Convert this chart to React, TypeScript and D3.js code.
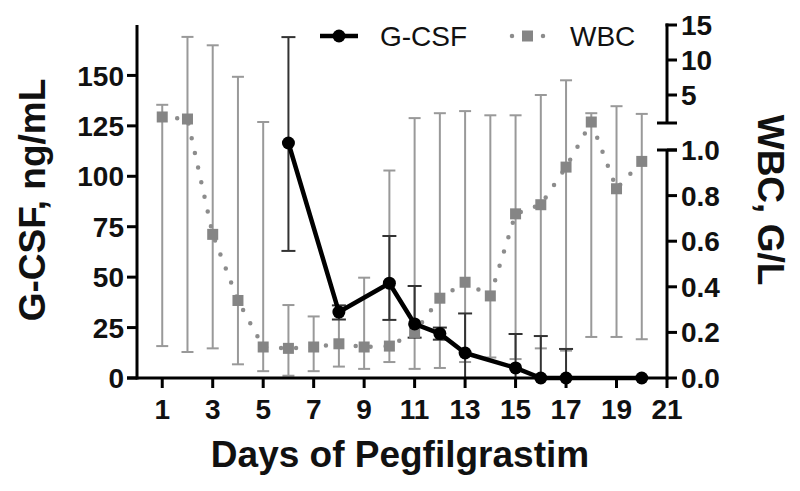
import React, { useEffect, useRef } from 'react';
import * as d3 from 'd3';

// WBC, days 1..20 (G/L)
const wbcDays = [1, 2, 3, 4, 5, 6, 7, 8, 9, 10, 11, 12, 13, 14, 15, 16, 17, 18, 19, 20];
const wbcMean = [1.86, 1.57, 0.63, 0.34, 0.136, 0.13, 0.136, 0.15, 0.136, 0.14, 0.2, 0.35, 0.42, 0.36, 0.72, 0.76, 0.925, 1.14, 0.83, 0.95];
const wbcHigh = [3.6, 13.3, 12.1, 7.6, 1.14, 0.32, 0.27, 0.3, 0.44, 0.91, 1.7, 2.4, 2.7, 2.1, 2.1, 5.0, 7.1, 2.4, 3.4, 2.3];
const wbcLow = [0.14, 0.114, 0.13, 0.06, 0.03, 0.01, 0.03, 0.05, 0.04, 0.07, 0.04, 0.044, 0.07, 0.09, 0.083, 0.13, 0.12, 0.18, 0.18, 0.17];

// G-CSF (ng/mL)
const gcsfDays = [6, 8, 10, 11, 12, 13, 15, 16, 17, 20];
const gcsfMean = [116.5, 32.7, 47, 26.8, 22, 12.4, 5, 0, 0, 0];
const gcsfHigh = [169, 36, 70.4, 45.6, 25, 32, 21.8, 20.8, 14.4, 0];
const gcsfLow = [63, 29, 28.8, 20, 19, 0, 0, 0, 0, 0];

const xTicks = [1, 3, 5, 7, 9, 11, 13, 15, 17, 19, 21];
const leftTicks = [0, 25, 50, 75, 100, 125, 150];
const rightLowTicks = [0, 0.2, 0.4, 0.6, 0.8, 1.0];
const rightHighTicks = [5, 10, 15];

const App: React.FC = () => {
  const svgRef = useRef<SVGSVGElement | null>(null);

  useEffect(() => {
    if (!svgRef.current) return;
    const svg = d3.select(svgRef.current);
    svg.selectAll('*').remove();

    const left = 137, right = 667, top = 25, bottom = 378;
    const font = "'Liberation Sans', Arial, sans-serif";

    const x = d3.scaleLinear().domain([0, 21]).range([left, right]);
    const yL = d3.scaleLinear().domain([0, 175]).range([bottom, top]);
    // broken right axis: 0-1 lower segment, 1-15 upper segment
    const yRlo = d3.scaleLinear().domain([0, 1]).range([bottom, 150]);
    const yRhi = d3.scaleLinear().domain([1, 15]).range([123, top]);
    const yR = (v: number) => (v <= 1 ? yRlo(v) : yRhi(v));

    const gray = '#8c8c8c';

    // WBC error bars
    const wbcErr = svg.append('g').attr('stroke', '#999').attr('stroke-width', 2);
    wbcDays.forEach((d, i) => {
      wbcErr.append('line').attr('x1', x(d)).attr('x2', x(d)).attr('y1', yR(wbcLow[i])).attr('y2', yR(wbcHigh[i]));
      [wbcLow[i], wbcHigh[i]].forEach(v => {
        wbcErr.append('line').attr('x1', x(d) - 6).attr('x2', x(d) + 6).attr('y1', yR(v)).attr('y2', yR(v));
      });
    });

    // G-CSF error bars
    const gErr = svg.append('g').attr('stroke', '#333').attr('stroke-width', 2);
    gcsfDays.forEach((d, i) => {
      if (gcsfHigh[i] === gcsfLow[i]) return;
      gErr.append('line').attr('x1', x(d)).attr('x2', x(d)).attr('y1', yL(gcsfLow[i])).attr('y2', yL(gcsfHigh[i]));
      [gcsfLow[i], gcsfHigh[i]].forEach(v => {
        gErr.append('line').attr('x1', x(d) - 7).attr('x2', x(d) + 7).attr('y1', yL(v)).attr('y2', yL(v));
      });
    });

    // WBC dotted line + squares
    const wbcLine = d3.line<number>().x((_, i) => x(wbcDays[i])).y(v => yR(v));
    svg.append('path')
      .attr('d', wbcLine(wbcMean))
      .attr('fill', 'none')
      .attr('stroke', gray)
      .attr('stroke-width', 4.5)
      .attr('stroke-linecap', 'round')
      .attr('stroke-dasharray', '0 15');
    svg.append('g').selectAll('rect')
      .data(wbcMean)
      .enter()
      .append('rect')
      .attr('x', (_, i) => x(wbcDays[i]) - 5.5)
      .attr('y', v => yR(v) - 5.5)
      .attr('width', 11)
      .attr('height', 11)
      .attr('fill', '#858585');

    // G-CSF line + circles
    const gLine = d3.line<number>().x((_, i) => x(gcsfDays[i])).y(v => yL(v));
    svg.append('path')
      .attr('d', gLine(gcsfMean))
      .attr('fill', 'none')
      .attr('stroke', '#000')
      .attr('stroke-width', 4.5)
      .attr('stroke-linejoin', 'round');
    svg.append('g').selectAll('circle')
      .data(gcsfMean)
      .enter()
      .append('circle')
      .attr('cx', (_, i) => x(gcsfDays[i]))
      .attr('cy', v => yL(v))
      .attr('r', 6.5)
      .attr('fill', '#000');

    // Axes
    const ax = svg.append('g').attr('stroke', '#000').attr('stroke-width', 3);
    ax.append('line').attr('x1', left - 10).attr('x2', right + 1.5).attr('y1', bottom).attr('y2', bottom);
    ax.append('line').attr('x1', left).attr('x2', left).attr('y1', top).attr('y2', bottom + 1.5);
    leftTicks.forEach(t => {
      ax.append('line').attr('x1', left - 10).attr('x2', left).attr('y1', yL(t)).attr('y2', yL(t));
    });
    xTicks.forEach(t => {
      ax.append('line').attr('x1', x(t)).attr('x2', x(t)).attr('y1', bottom).attr('y2', bottom + 10);
    });
    // right broken axis
    ax.append('line').attr('x1', right).attr('x2', right).attr('y1', yRlo(1)).attr('y2', bottom + 1.5);
    ax.append('line').attr('x1', right).attr('x2', right).attr('y1', yRhi(15) - 1.5).attr('y2', yRhi(1));
    ax.append('line').attr('x1', right - 10).attr('x2', right + 10).attr('y1', yRlo(1)).attr('y2', yRlo(1));
    ax.append('line').attr('x1', right - 10).attr('x2', right + 10).attr('y1', yRhi(1)).attr('y2', yRhi(1));
    rightLowTicks.forEach(t => {
      ax.append('line').attr('x1', right).attr('x2', right + 10).attr('y1', yRlo(t)).attr('y2', yRlo(t));
    });
    rightHighTicks.forEach(t => {
      ax.append('line').attr('x1', t === 15 ? right - 1.5 : right).attr('x2', right + 10).attr('y1', yRhi(t)).attr('y2', yRhi(t));
    });

    // Tick labels
    const lab = svg.append('g').attr('font-family', font).attr('font-weight', 'bold').attr('font-size', 28).attr('fill', '#111');
    leftTicks.forEach(t => {
      lab.append('text').attr('x', left - 13).attr('y', yL(t)).attr('dy', '0.36em').attr('text-anchor', 'end').text(t);
    });
    xTicks.forEach(t => {
      lab.append('text').attr('x', x(t)).attr('y', 419).attr('text-anchor', 'middle').text(t);
    });
    rightLowTicks.forEach(t => {
      lab.append('text').attr('x', right + 14).attr('y', yRlo(t)).attr('dy', '0.36em').text(d3.format('.1f')(t));
    });
    rightHighTicks.forEach(t => {
      lab.append('text').attr('x', right + 14).attr('y', yRhi(t)).attr('dy', '0.36em').text(t);
    });

    // Axis titles
    svg.append('text')
      .attr('transform', 'translate(45,200) rotate(-90)')
      .attr('text-anchor', 'middle')
      .attr('font-family', font).attr('font-weight', 'bold').attr('font-size', 37).attr('fill', '#111')
      .text('G-CSF, ng/mL');
    svg.append('text')
      .attr('transform', 'translate(758,200) rotate(90)')
      .attr('text-anchor', 'middle')
      .attr('font-family', font).attr('font-weight', 'bold').attr('font-size', 37).attr('fill', '#111')
      .text('WBC, G/L');
    svg.append('text')
      .attr('x', 400).attr('y', 467)
      .attr('text-anchor', 'middle')
      .attr('font-family', font).attr('font-weight', 'bold').attr('font-size', 37).attr('fill', '#111')
      .text('Days of Pegfilgrastim');

    // Legend
    const leg = svg.append('g');
    leg.append('line').attr('x1', 320).attr('x2', 358).attr('y1', 36).attr('y2', 36).attr('stroke', '#000').attr('stroke-width', 4.5);
    leg.append('circle').attr('cx', 339).attr('cy', 36).attr('r', 6.5).attr('fill', '#000');
    leg.append('text').attr('x', 380).attr('y', 46).attr('font-family', font).attr('font-size', 28).attr('fill', '#111').text('G-CSF');
    leg.append('line').attr('x1', 512).attr('x2', 545).attr('y1', 36).attr('y2', 36)
      .attr('stroke', gray).attr('stroke-width', 4.5).attr('stroke-linecap', 'round').attr('stroke-dasharray', '0 15.5');
    leg.append('rect').attr('x', 522).attr('y', 30.5).attr('width', 11).attr('height', 11).attr('fill', '#858585');
    leg.append('text').attr('x', 570).attr('y', 46).attr('font-family', font).attr('font-size', 28).attr('fill', '#111').text('WBC');
  }, []);

  return (
    <svg ref={svgRef} width={800} height={491} style={{ position: 'absolute', left: 0, top: 0, background: '#fff' }} />
  );
};

export default App;
